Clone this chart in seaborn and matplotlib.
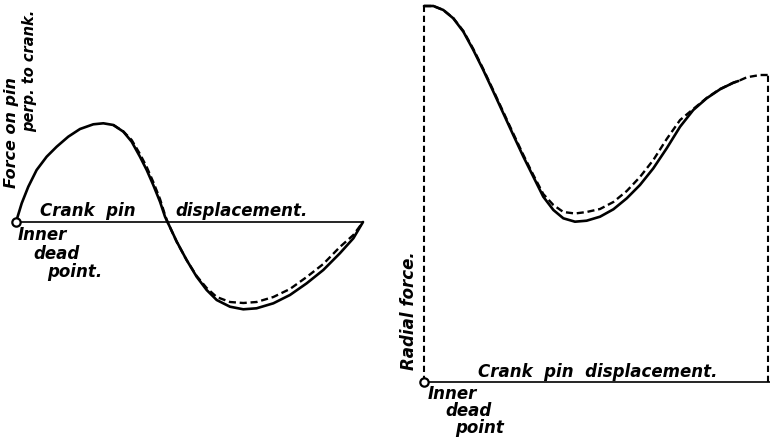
import matplotlib
matplotlib.use("Agg")
import matplotlib.pyplot as plt
import seaborn as sns
import pandas as pd

# Crank angle (deg) vs. force on the crank pin, two diagrams.
# Left: force on pin perpendicular to crank.
perp_angle = [0, 2.96, 6.38, 10.7, 15.9, 21.1, 27.1, 33.2, 40.1, 45.3, 50.5, 55.7,
              60.0, 64.3, 67.8, 71.2, 74.7, 77.3, 78.6, 83.4, 88.5, 93.7, 98.9,
              104.1, 111.0, 117.9, 124.8, 133.5, 142.1, 150.8, 159.4, 168.0,
              175.0, 180]
perp_force = [0, 18.7, 35.3, 52, 65.3, 75.3, 85.3, 93, 97.7, 98.7, 97, 90.3,
              80.3, 65.3, 52, 37, 20.3, 5.3, 0, -19.7, -38, -54.7, -68,
              -78, -84.7, -87.3, -86.3, -81.3, -73, -61.3, -48, -31.3,
              -16.3, 0]
perp_approx_angle = [50.5, 55.7, 60.0, 64.3, 67.8, 71.2, 74.7, 77.3, 78.6, 83.4,
                     88.5, 93.7, 98.9, 104.1, 111.0, 117.9, 124.8, 133.5, 142.1,
                     150.8, 159.4, 168.0, 175.0, 180]
perp_approx_force = [97, 90.5, 82, 68, 55, 40, 23, 7, 0, -20,
                     -38, -54, -66, -75, -80, -81, -80, -75, -67,
                     -55, -42, -25, -13, 0]

# Right: radial force on pin.
rad_angle = [0, 4.9, 10.1, 15.3, 20.6, 25.8, 31.0, 36.3, 41.5, 46.7, 52.0, 57.2,
             62.4, 67.7, 72.9, 79.0, 85.1, 92.1, 99.1, 106.1, 113.0, 120.0,
             127.0, 134.0, 140.9, 147.9, 154.9, 161.9, 164.5]
rad_force = [376, 376, 372, 363.7, 350.3, 332, 312, 290.3, 268.7, 247, 225.3, 205.3,
             185.3, 172, 163.7, 160.3, 161.3, 165.3, 172.7, 183.7, 197, 213.7,
             233.7, 255.3, 272, 283.7, 292.7, 299.3, 301]
rad_approx_angle = [0, 4.9, 10.1, 15.3, 20.6, 25.8, 31.0, 36.3, 41.5, 46.7, 52.0,
                    57.2, 62.4, 67.7, 72.9, 79.0, 85.1, 92.1, 99.1, 106.1, 113.0,
                    120.0, 127.0, 134.0, 140.9, 147.9, 154.9, 161.9, 164.5, 168.9,
                    175.8, 180]
rad_approx_force = [376, 376, 372, 364, 351, 333, 313, 291.5, 270, 248.5, 227,
                    207, 188, 177, 170, 168.5, 170, 173, 180, 191, 205,
                    222, 243, 262, 273, 284, 293, 299.3, 301, 304.7,
                    307, 307]

W, H = 770, 437
sns.set_theme(style="white")
plt.rcParams["font.family"] = ["DejaVu Sans"]
fig = plt.figure(figsize=(W / 100, H / 100), dpi=100)
fig.patch.set_facecolor("white")

ink = "black"
txt = dict(color=ink, fontstyle="italic", fontweight="bold", fontsize=12)
solid_kw = dict(color=ink, lw=1.9, sort=False, solid_joinstyle="round",
                solid_capstyle="round")
dash_kw = dict(color=ink, lw=1.7, sort=False, linestyle=(0, (3.0, 1.6)),
               dash_joinstyle="round")
dash_guide = (0, (3.0, 1.8))


def ftext(px, py, s, **kw):
    opts = dict(txt)
    opts.update(kw)
    fig.text(px / W, 1 - py / H, s, **opts)


# ---------- left diagram ----------
sx1 = 347 / 180
ax1 = fig.add_axes([0, 0, 380 / W, 1])
ax1.set_xlim(-16 / sx1, (380 - 16) / sx1)
ax1.set_ylim(222 - H, 222)
ax1.axis("off")

ax1.plot([perp_angle[0], perp_angle[-1]], [0, 0], color=ink, lw=1.2)
sns.lineplot(data=pd.DataFrame({"a": perp_angle, "f": perp_force}), x="a", y="f",
             ax=ax1, **solid_kw)
sns.lineplot(data=pd.DataFrame({"a": perp_approx_angle, "f": perp_approx_force}),
             x="a", y="f", ax=ax1, **dash_kw)
ax1.plot(perp_angle[0], 0, "o", ms=6, mfc="white", mec=ink, mew=1.6, zorder=5)

ftext(40, 216, "Crank  pin", ha="left", va="baseline")
ftext(175, 216, "displacement.", ha="left", va="baseline")
ftext(18, 240, "Inner", ha="left", va="baseline")
ftext(33, 259, "dead", ha="left", va="baseline")
ftext(47, 277, "point.", ha="left", va="baseline")
ftext(19, 188, "Force on pin", rotation=90, ha="right", va="bottom", fontsize=11.5)
ftext(37, 132, "perp. to crank.", rotation=90, ha="right", va="bottom",
      fontsize=10.5)

# ---------- right diagram ----------
sx2 = 344 / 180
ax2 = fig.add_axes([380 / W, 0, 390 / W, 1])
ax2.set_xlim((380 - 424) / sx2, (770 - 424) / sx2)
ax2.set_ylim(382 - H, 382)
ax2.axis("off")

ax2.plot([rad_approx_angle[0], ax2.get_xlim()[1]], [0, 0], color=ink, lw=1.2)
ax2.vlines(rad_approx_angle[0], 0, rad_approx_force[0], color=ink, lw=1.5,
           linestyle=dash_guide)
ax2.vlines(rad_approx_angle[-1], 0, rad_approx_force[-1], color=ink, lw=1.5,
           linestyle=dash_guide)
sns.lineplot(data=pd.DataFrame({"a": rad_angle, "f": rad_force}), x="a", y="f",
             ax=ax2, **solid_kw)
sns.lineplot(data=pd.DataFrame({"a": rad_approx_angle, "f": rad_approx_force}),
             x="a", y="f", ax=ax2, **dash_kw)
ax2.plot(rad_approx_angle[0], 0, "o", ms=6, mfc="white", mec=ink, mew=1.6, zorder=5)

ftext(478, 377, "Crank  pin  displacement.", ha="left", va="baseline")
ftext(428, 399, "Inner", ha="left", va="baseline")
ftext(445, 416, "dead", ha="left", va="baseline")
ftext(455, 433, "point", ha="left", va="baseline")
ftext(418, 370, "Radial force.", rotation=90, ha="right", va="bottom")

fig.savefig("out.png", dpi=100, facecolor="white")
